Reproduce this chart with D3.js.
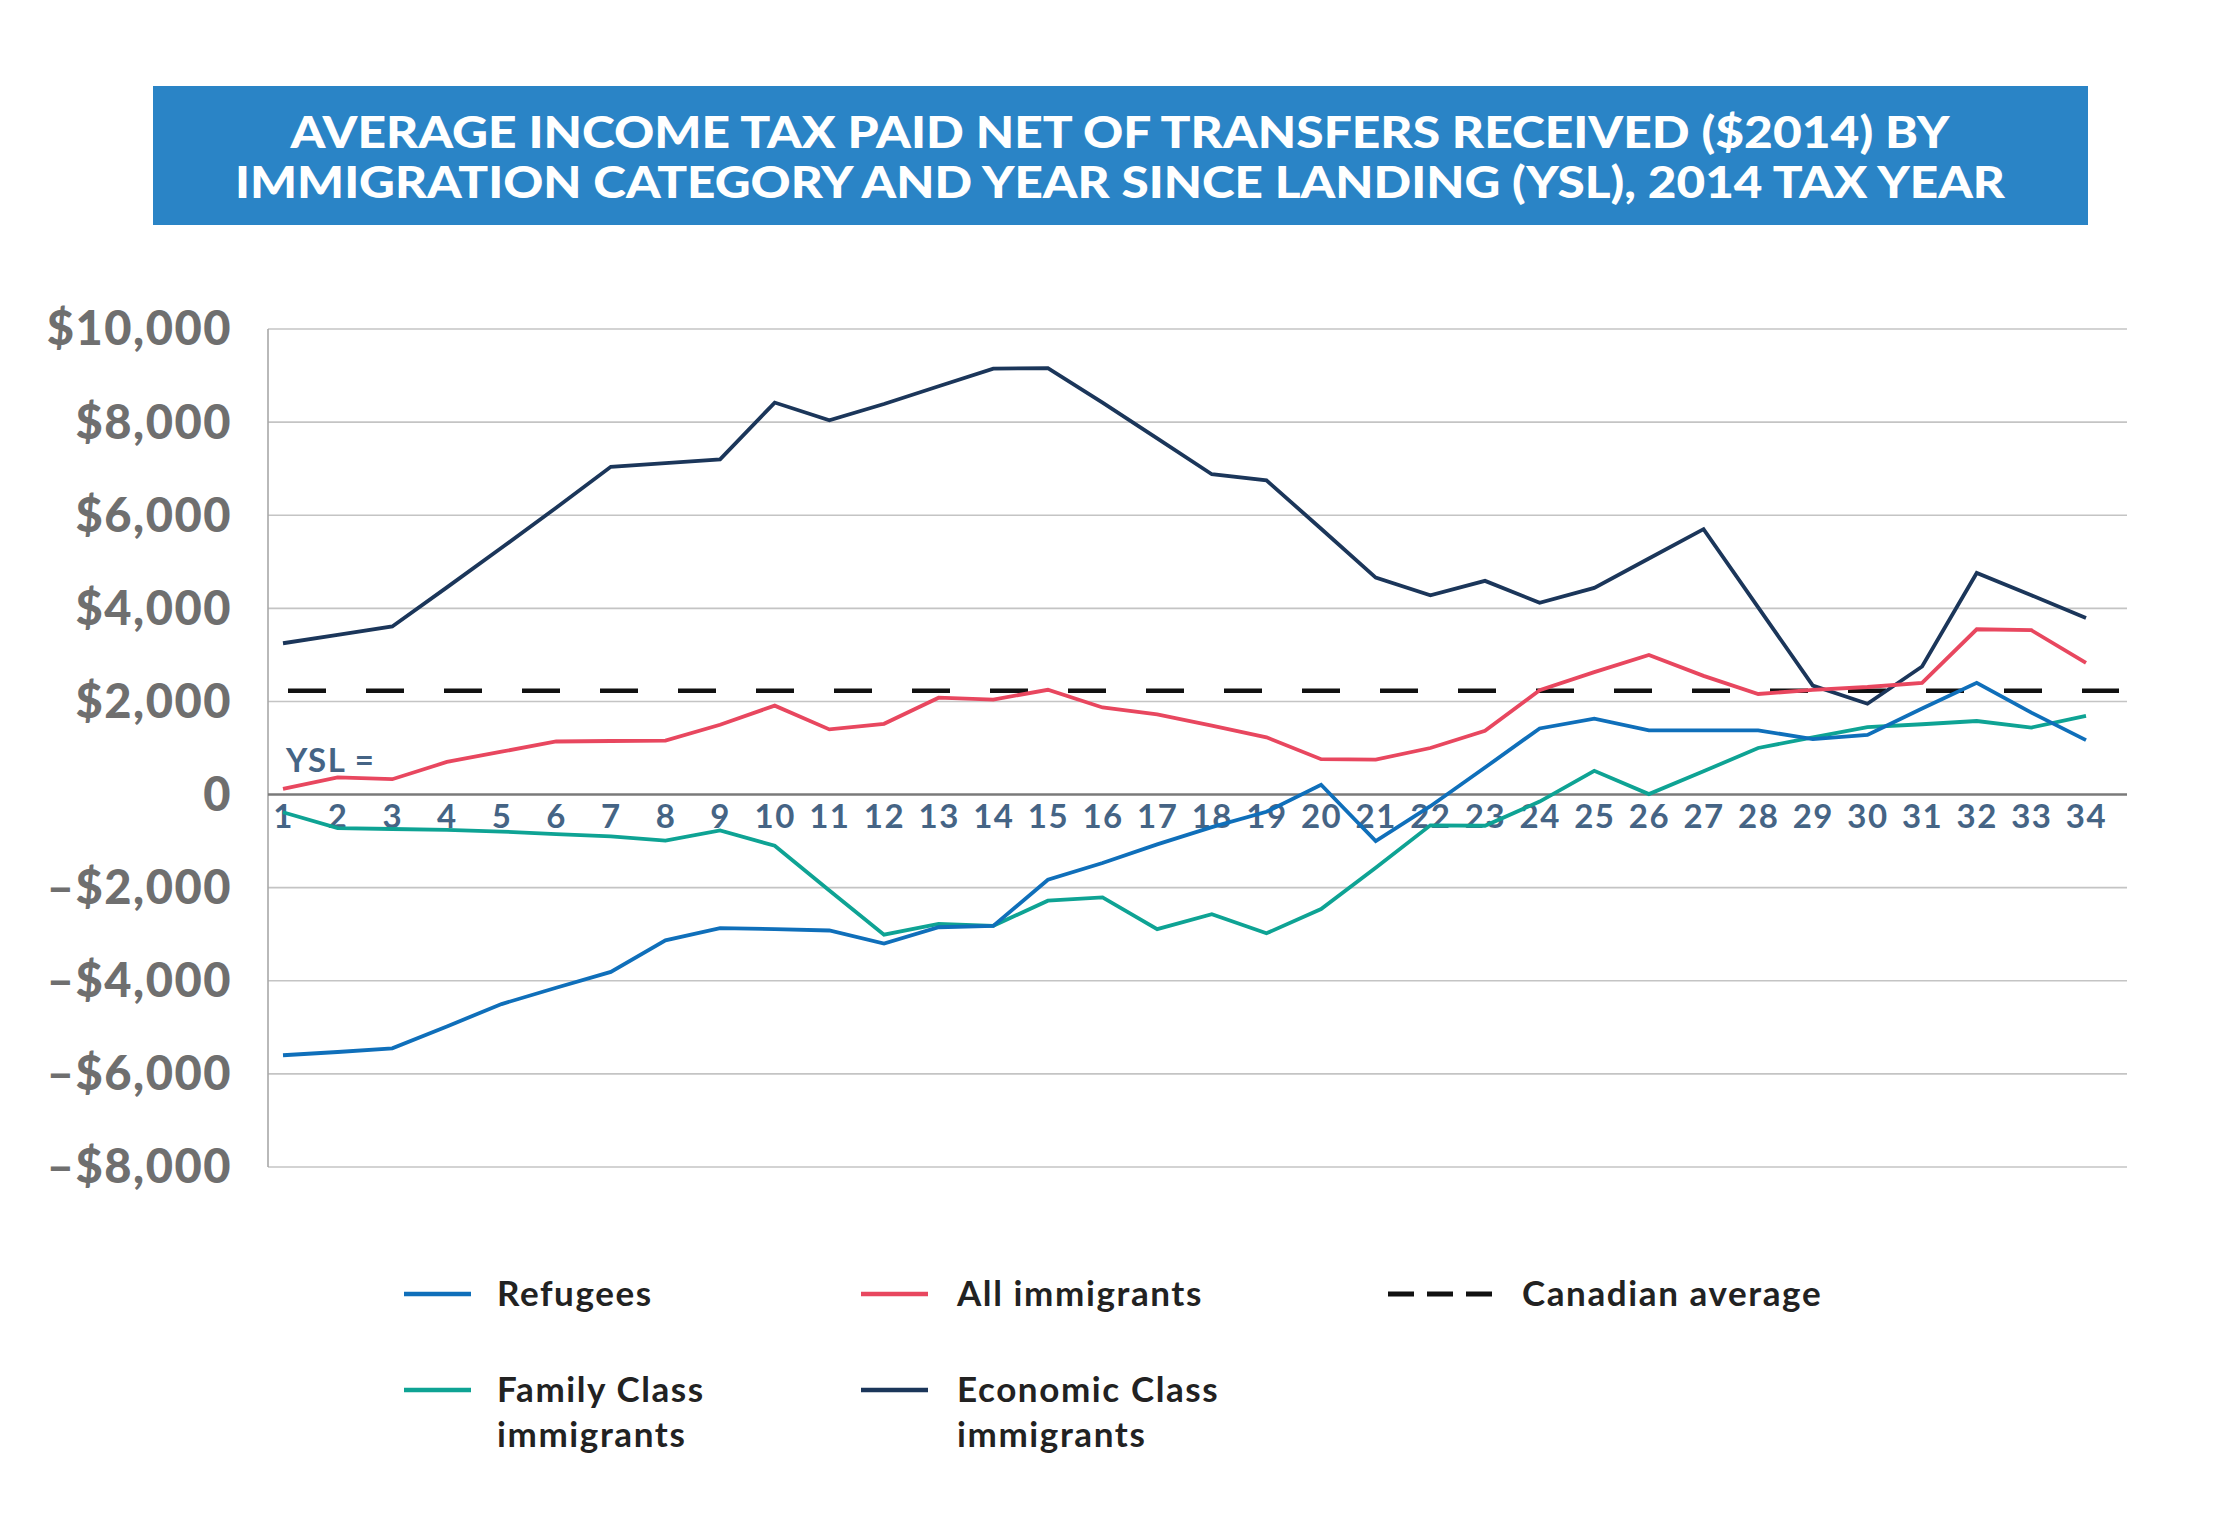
<!DOCTYPE html>
<html>
<head>
<meta charset="utf-8">
<script src="https://cdn.jsdelivr.net/npm/d3@7"></script>
<style>
  html, body { margin: 0; padding: 0; background: #fff; }
  svg { display: block; }
  text { font-family: Lato, "Open Sans", sans-serif; }
</style>
</head>
<body>
<svg id="chart" width="2231" height="1526"></svg>
<script>
// ---------------- DATA ----------------
const years = d3.range(1, 35);
const refugees = [-5600, -5530, -5450, -4980, -4500, -4150, -3810, -3130, -2870, -2890, -2920, -3200, -2850, -2820, -1830, -1470, -1070, -700, -370, 210, -1000, -250, 580, 1420, 1630, 1380, 1380, 1380, 1190, 1280, 1850, 2400, 1760, 1170];
const familyClass = [-380, -720, -740, -760, -795, -850, -900, -990, -770, -1100, -2060, -3010, -2780, -2820, -2280, -2210, -2890, -2570, -2980, -2460, -1570, -660, -670, -150, 510, 10, 500, 1000, 1230, 1450, 1510, 1580, 1440, 1690];
const allImmigrants = [120, 370, 330, 700, 920, 1140, 1150, 1160, 1500, 1910, 1400, 1520, 2080, 2040, 2250, 1870, 1720, 1480, 1230, 760, 750, 1000, 1370, 2240, 2630, 3000, 2550, 2160, 2250, 2310, 2400, 3550, 3530, 2830];
const economicClass = [3250, 3430, 3610, 4450, 5300, 6160, 7040, 7120, 7200, 8420, 8040, 8390, 8770, 9150, 9160, 8420, 7650, 6880, 6750, 5710, 4660, 4280, 4590, 4120, 4440, 5070, 5700, 4020, 2340, 1950, 2750, 4760, 4280, 3790];
const canadianAverage = 2230;
const yTicks = [10000, 8000, 6000, 4000, 2000, 0, -2000, -4000, -6000, -8000];
const titleLines = ["AVERAGE INCOME TAX PAID NET OF TRANSFERS RECEIVED ($2014) BY",
                    "IMMIGRATION CATEGORY AND YEAR SINCE LANDING (YSL), 2014 TAX YEAR"];
const seriesNames = ["Refugees", "All immigrants", "Canadian average", "Family Class immigrants", "Economic Class immigrants"];

// ---------------- STYLE / LAYOUT ----------------
const colors = {
  refugees: "#0f6fba",
  all: "#e8475f",
  family: "#0ea394",
  economic: "#1b365a",
  avg: "#111111"
};
const plotLeft = 268, plotRight = 2127, plotTop = 329, plotBottom = 1167;

const svg = d3.select("#chart");

const x = d3.scaleLinear().domain([1, 34]).range([283, 2086]);
const y = d3.scaleLinear().domain([-8000, 10000]).range([plotBottom, plotTop]);

// Title banner
svg.append("rect")
  .attr("x", 153).attr("y", 86).attr("width", 1935).attr("height", 139)
  .attr("fill", "#2a84c6");
const titleWidths = [1659, 1770];
titleLines.forEach((t, i) => {
  svg.append("text")
    .attr("x", 1120).attr("y", 148 + i * 50)
    .attr("text-anchor", "middle")
    .attr("fill", "#fff")
    .attr("font-size", 43)
    .attr("font-weight", 900)
    .attr("textLength", titleWidths[i])
    .attr("lengthAdjust", "spacingAndGlyphs")
    .text(t);
});

// Gridlines
svg.append("g").selectAll("line")
  .data(yTicks.filter(d => d !== 0))
  .join("line")
  .attr("x1", plotLeft).attr("x2", plotRight)
  .attr("y1", d => y(d)).attr("y2", d => y(d))
  .attr("stroke", "#c4c4c4").attr("stroke-width", 1.6);

// Left axis line
svg.append("line")
  .attr("x1", plotLeft).attr("x2", plotLeft)
  .attr("y1", y(10000)).attr("y2", y(-8000))
  .attr("stroke", "#a8a8a8").attr("stroke-width", 1.6);

// Y axis labels
const fmtY = d => d === 0 ? "0" : (d < 0 ? "\u2013" : "") + "$" + d3.format(",")(Math.abs(d));
const yAxis = svg.append("g")
  .attr("transform", `translate(${plotLeft},0)`)
  .call(d3.axisLeft(y).tickValues(yTicks).tickFormat(fmtY).tickSize(0).tickPadding(36));
yAxis.select(".domain").remove();
yAxis.selectAll("text")
  .attr("font-family", "Lato, 'Open Sans', sans-serif")
  .attr("font-size", 47)
  .attr("font-weight", 900)
  .attr("letter-spacing", 1.5)
  .attr("fill", "#6f6f6f")
  .attr("dy", "0.34em");

// Zero line
svg.append("line")
  .attr("x1", plotLeft).attr("x2", plotRight)
  .attr("y1", y(0)).attr("y2", y(0))
  .attr("stroke", "#7a7a7a").attr("stroke-width", 2.6);

// X axis labels (at zero line)
const xAxis = svg.append("g")
  .attr("transform", `translate(0,${y(0)})`)
  .call(d3.axisBottom(x).tickValues(years).tickFormat(d3.format("d")).tickSize(0).tickPadding(10));
xAxis.select(".domain").remove();
xAxis.selectAll("text")
  .attr("font-family", "Lato, 'Open Sans', sans-serif")
  .attr("font-size", 33)
  .attr("font-weight", 700)
  .attr("letter-spacing", 1.5)
  .attr("fill", "#456485");

// YSL label
svg.append("text")
  .attr("x", 286).attr("y", 772)
  .attr("font-size", 33).attr("font-weight", 700)
  .attr("letter-spacing", 1.5)
  .attr("fill", "#456485")
  .text("YSL =");

// Canadian average dashed line
svg.append("line")
  .attr("x1", x(1) + 5).attr("x2", plotRight - 8)
  .attr("y1", y(canadianAverage)).attr("y2", y(canadianAverage))
  .attr("stroke", colors.avg).attr("stroke-width", 4.5)
  .attr("stroke-dasharray", "38 40");

// Series lines
const line = d3.line().x((d, i) => x(years[i])).y(d => y(d));
const series = [
  { values: economicClass, color: colors.economic },
  { values: allImmigrants, color: colors.all },
  { values: familyClass, color: colors.family },
  { values: refugees, color: colors.refugees }
];
svg.append("g").selectAll("path")
  .data(series)
  .join("path")
  .attr("d", d => line(d.values))
  .attr("fill", "none")
  .attr("stroke", d => d.color)
  .attr("stroke-width", 3.8)
  .attr("stroke-linejoin", "miter");

// Legend
const legendItems = [
  { name: ["Refugees"], color: colors.refugees, dash: null, sx: 404, tx: 497, y: 1294 },
  { name: ["All immigrants"], color: colors.all, dash: null, sx: 861, tx: 957, y: 1294 },
  { name: ["Canadian average"], color: colors.avg, dash: "26 13", sx: 1388, tx: 1522, y: 1294 },
  { name: ["Family Class", "immigrants"], color: colors.family, dash: null, sx: 404, tx: 497, y: 1390 },
  { name: ["Economic Class", "immigrants"], color: colors.economic, dash: null, sx: 861, tx: 957, y: 1390 }
];
const lg = svg.append("g");
legendItems.forEach(it => {
  lg.append("line")
    .attr("x1", it.sx).attr("x2", it.dash ? it.sx + 104 : it.sx + 67)
    .attr("y1", it.y).attr("y2", it.y)
    .attr("stroke", it.color).attr("stroke-width", it.dash ? 5 : 4.5)
    .attr("stroke-dasharray", it.dash);
  it.name.forEach((t, j) => {
    lg.append("text")
      .attr("x", it.tx).attr("y", it.y + 12 + j * 45)
      .attr("font-size", 35).attr("font-weight", 700)
      .attr("letter-spacing", 1.6)
      .attr("fill", "#222")
      .text(t);
  });
});
</script>
</body>
</html>
